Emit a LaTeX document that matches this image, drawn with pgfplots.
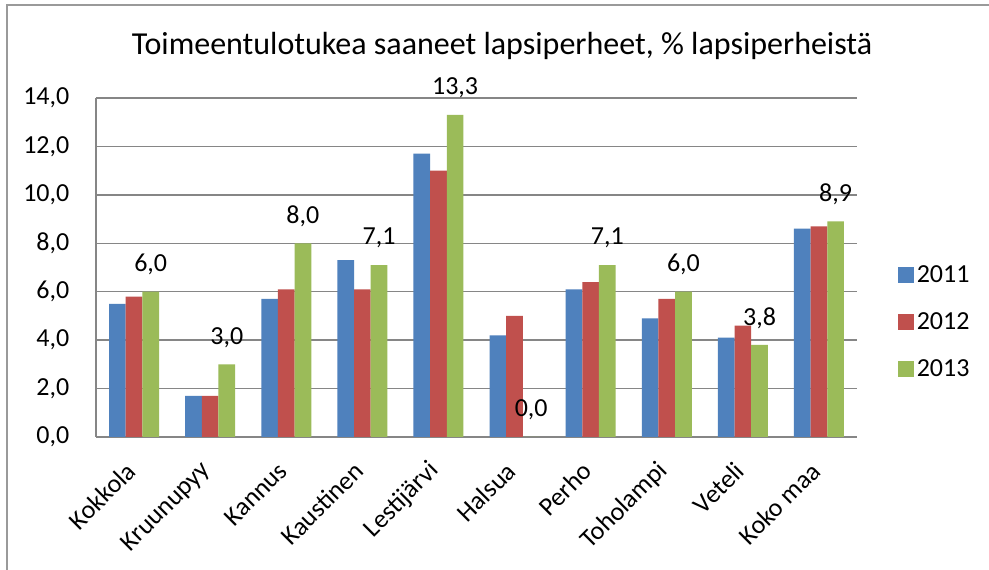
\documentclass[border=0pt]{standalone}
\usepackage{fontspec}
\setmainfont{Carlito}
\usepackage{pgfplots}
\pgfplotsset{compat=1.18}
\definecolor{cA}{HTML}{4F81BD}
\definecolor{cB}{HTML}{C0504D}
\definecolor{cC}{HTML}{9BBB59}
\definecolor{gridgray}{HTML}{868686}
\definecolor{framegray}{HTML}{9A9A9A}
\begin{document}
\begin{tikzpicture}[x=0.75pt,y=0.75pt]
\useasboundingbox (0,0) rectangle (989,570);
\fill[white] (0,0) rectangle (989,570);
\draw[framegray, line width=1.5pt] (7,-10) -- (7,565) -- (1000,565);
\node[font=\fontsize{24}{28}\selectfont, anchor=base, inner sep=0pt] at (502,515) {Toimeentulotukea saaneet lapsiperheet, \% lapsiperheistä};
\begin{axis}[
  at={(72pt,99.75pt)}, anchor=south west,
  scale only axis, width=570.75pt, height=254.25pt,
  ybar=0pt, bar width=12.5pt,
  xmin=-0.5, xmax=9.5, ymin=0, ymax=14,
  xtick={0,...,9},
  xticklabels={Kokkola,Kruunupyy,Kannus,Kaustinen,Lestijärvi,Halsua,Perho,Toholampi,Veteli,Koko maa},
  x tick label style={rotate=45, anchor=east, font=\fontsize{19.5}{23}\selectfont},
  xticklabel shift=20pt,
  ytick={0,2,...,14},
  yticklabel style={font=\fontsize{19.5}{23}\selectfont, xshift=-16.5pt,
    /pgf/number format/fixed, /pgf/number format/fixed zerofill,
    /pgf/number format/precision=1, /pgf/number format/use comma},
  /pgf/number format/assume math mode=true,
  ymajorgrids, grid style={gridgray, line width=1.1pt},
  axis x line*=bottom, axis y line*=left,
  axis line style={gridgray, line width=1.1pt},
  major tick length=0pt, tick style={draw=none},
  legend style={at={(1.054,0.339)}, anchor=west, draw=none, fill=none,
    font=\fontsize{19.5}{23}\selectfont, row sep=17pt, inner sep=0pt},
  legend cell align=left,
  legend image code/.code={\fill[#1,draw=none] (0pt,-5.9pt) rectangle (11.8pt,5.9pt);},
  clip=false,
]
\addplot[fill=cA, draw=none] coordinates {(0,5.5) (1,1.7) (2,5.7) (3,7.3) (4,11.7) (5,4.2) (6,6.1) (7,4.9) (8,4.1) (9,8.6)};
\addplot[fill=cB, draw=none] coordinates {(0,5.8) (1,1.7) (2,6.1) (3,6.1) (4,11.0) (5,5.0) (6,6.4) (7,5.7) (8,4.6) (9,8.7)};
\addplot[fill=cC, draw=none,
  nodes near coords={\pgfmathprintnumber[fixed,fixed zerofill,precision=1,use comma]{\pgfplotspointmeta}},
  every node near coord/.append style={anchor=center, yshift=20.25pt, font=\fontsize{19.5}{23}\selectfont, text=black}]
  coordinates {(0,6.0) (1,3.0) (2,8.0) (3,7.1) (4,13.3) (5,0.0) (6,7.1) (7,6.0) (8,3.8) (9,8.9)};
\legend{2011,2012,2013}
\end{axis}
\end{tikzpicture}
\end{document}
